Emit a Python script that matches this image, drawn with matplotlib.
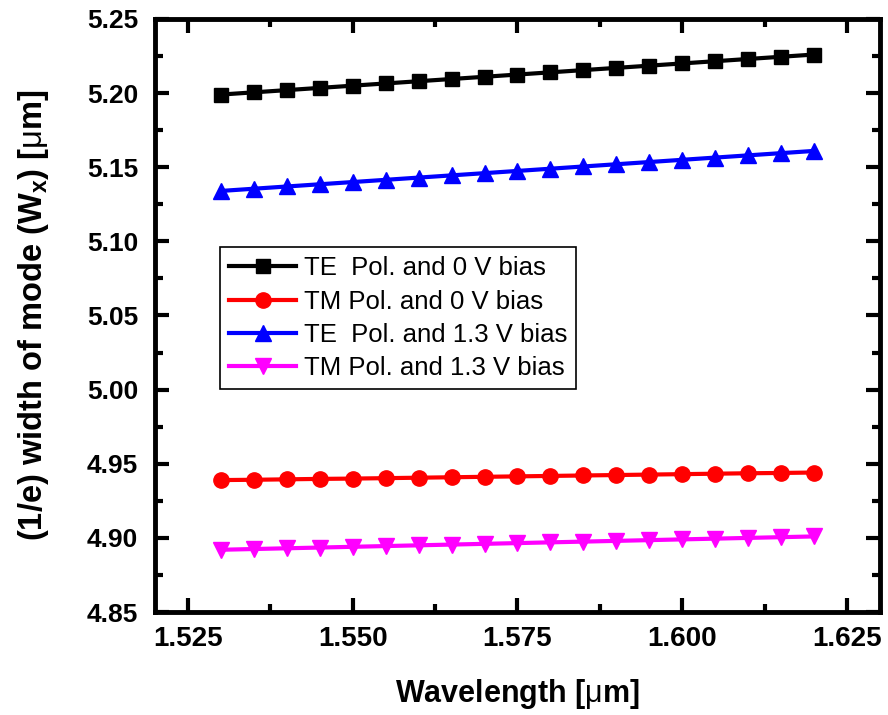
import matplotlib
matplotlib.use("Agg")
import matplotlib.pyplot as plt
from matplotlib.ticker import MultipleLocator, FormatStrFormatter

wavelength = [1.530, 1.535, 1.540, 1.545, 1.550, 1.555, 1.560, 1.565, 1.570, 1.575,
              1.580, 1.585, 1.590, 1.595, 1.600, 1.605, 1.610, 1.615, 1.620]
te_0v = [5.1990, 5.2005, 5.2020, 5.2035, 5.2050, 5.2065, 5.2080, 5.2095, 5.2110, 5.2125,
         5.2140, 5.2155, 5.2170, 5.2185, 5.2200, 5.2215, 5.2230, 5.2245, 5.2260]
tm_0v = [4.9390, 4.9392, 4.9395, 4.9398, 4.9400, 4.9403, 4.9406, 4.9409, 4.9412, 4.9415,
         4.9418, 4.9421, 4.9424, 4.9427, 4.9430, 4.9433, 4.9436, 4.9438, 4.9441]
te_13v = [5.1340, 5.1355, 5.1370, 5.1385, 5.1400, 5.1415, 5.1430, 5.1445, 5.1460, 5.1475,
          5.1490, 5.1505, 5.1520, 5.1535, 5.1550, 5.1565, 5.1580, 5.1595, 5.1610]
tm_13v = [4.8920, 4.8925, 4.8930, 4.8935, 4.8940, 4.8945, 4.8950, 4.8955, 4.8960, 4.8965,
          4.8970, 4.8975, 4.8980, 4.8985, 4.8990, 4.8995, 4.9000, 4.9005, 4.9010]
labels = ["TE  Pol. and 0 V bias", "TM Pol. and 0 V bias",
          "TE  Pol. and 1.3 V bias", "TM Pol. and 1.3 V bias"]

plt.rcParams['font.family'] = ['Liberation Sans', 'DejaVu Sans']
plt.rcParams['mathtext.fontset'] = 'custom'
plt.rcParams['mathtext.rm'] = 'Liberation Sans'
plt.rcParams['mathtext.bf'] = 'Liberation Sans:bold'

fig = plt.figure(figsize=(8.88, 7.15), dpi=100)
ax = fig.add_axes([0.1745, 0.144, 0.8165, 0.8295])

series = [(te_0v, 'black', 's', 10), (tm_0v, 'red', 'o', 11),
          (te_13v, 'blue', '^', 12), (tm_13v, 'magenta', 'v', 12)]
for (vals, col, mk, ms), lab in zip(series, labels):
    ax.plot(wavelength, vals, color=col, marker=mk, markersize=ms, linewidth=3, label=lab)

ax.set_xlim(1.52, 1.63)
ax.set_ylim(4.85, 5.25)
ax.xaxis.set_major_locator(MultipleLocator(0.025))
ax.xaxis.set_minor_locator(MultipleLocator(0.0125))
ax.yaxis.set_major_locator(MultipleLocator(0.05))
ax.yaxis.set_minor_locator(MultipleLocator(0.025))
ax.xaxis.set_major_formatter(FormatStrFormatter('%.3f'))
ax.yaxis.set_major_formatter(FormatStrFormatter('%.2f'))

for sp in ax.spines.values():
    sp.set_linewidth(3.5)
ax.tick_params(which='both', direction='in', top=True, right=True, width=3)
ax.tick_params(which='major', length=10)
ax.tick_params(which='minor', length=6)
ax.tick_params(axis='y', which='major', pad=12)
ax.tick_params(axis='x', which='major', pad=10)
for t in ax.get_xticklabels():
    t.set_fontweight('bold'); t.set_fontsize(20)
for t in ax.get_yticklabels():
    t.set_fontweight('bold'); t.set_fontsize(19)

ax.set_xlabel('Wavelength [$\\mathrm{\\mu}$m]', fontsize=22, fontweight='bold', labelpad=18)
ax.set_ylabel('(1/e) width of mode (W$_\\mathbf{x}$) [$\\mathrm{\\mu}$m]', fontsize=23.5,
              fontweight='bold', labelpad=26)

leg = ax.legend(loc='upper left', bbox_to_anchor=(0.09, 0.615), fontsize=18.5,
                frameon=True, fancybox=False, edgecolor='black', framealpha=1,
                handlelength=2.6, handletextpad=0.3, borderpad=0.35, labelspacing=0.36,
                borderaxespad=0)
leg.get_frame().set_linewidth(1.2)

fig.savefig('out.png', dpi=100)
